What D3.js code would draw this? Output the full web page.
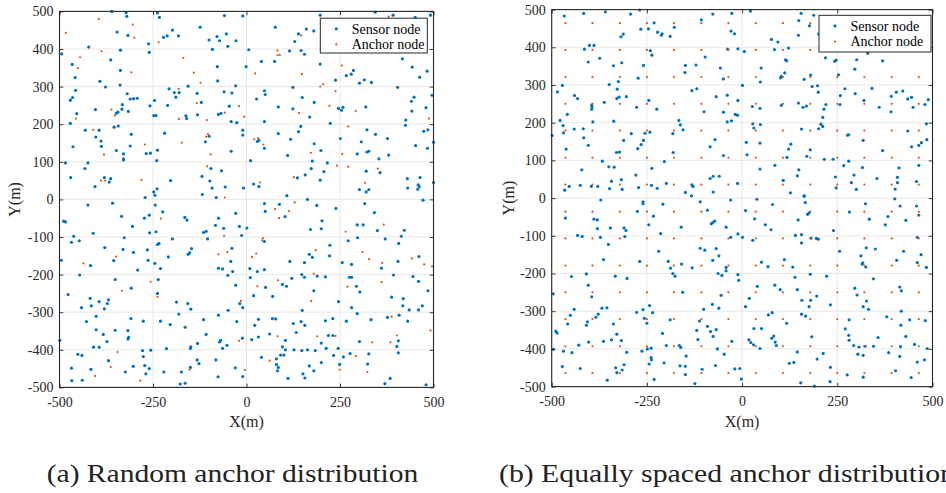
<!DOCTYPE html>
<html><head><meta charset="utf-8">
<script src="https://cdn.jsdelivr.net/npm/d3@7"></script>
<style>body{margin:0;background:#fff}svg{display:block}
svg text{font-family:"Liberation Serif","Tinos","Times New Roman","DejaVu Serif","Noto Serif",serif;}</style>
</head><body>
<svg id="c" width="946" height="493"></svg>
<script>
const xTicks = [-500,-250,0,250,500];
const yTicks = [-500,-400,-300,-200,-100,0,100,200,300,400,500];
const legendLabels = ["Sensor node","Anchor node"];
const captions = ["(a) Random anchor distribution","(b) Equally spaced anchor distribution"];
const axisLabels = ["X(m)","Y(m)"];

const sensorA = [
[-360,500],[-322,497],[-320,487],[-238,496],[-233,484],[-59,489],[-10,488],[-346,445],[-317,436],[-198,450],[-212,435],[-222,431],[-182,435],[-124,458],[-79,433],[-54,440],[-100,424],[-72,422],[-28,422],[-262,414],[-422,405],[-337,397],[-260,391],[-91,399],[-50,407],[-494,387],[-363,371],[-466,359],[-78,353],[-458,324],[-337,343],[-392,314],[-377,299],[-338,304],[-77,315],[-29,302],[-457,290],[-465,271],[-471,264],[-319,281],[-311,267],[-302,268],[-292,269],[-207,294],[-193,284],[-180,284],[-189,272],[-156,301],[-132,282],[-60,286],[-39,283],[-246,263],[-121,258],[-211,250],[-258,249],[-332,252],[-333,240],[-404,239],[-344,232],[-348,229],[-316,234],[-454,228],[-46,248],[-75,226],[-68,229],[-248,223],[-242,223],[-162,222],[-160,215],[-131,225],[-41,207],[-26,204],[-471,202],[-431,184],[-394,184],[-354,192],[-343,195],[-10,184],[-10,171],[-308,173],[-219,176],[-403,166],[-389,155],[-100,168],[-110,153],[-464,140],[-388,141],[-311,142],[-348,130],[-329,121],[-329,108],[-329,105],[-268,122],[-257,123],[-238,131],[-240,103],[-41,128],[-484,97],[-424,97],[-432,82],[-470,58],[-380,58],[-363,55],[-367,46],[-405,34],[-203,50],[-119,61],[-98,49],[-67,76],[-95,82],[-239,28],[-248,20],[-245,11],[-271,5],[-118,13],[-92,30],[-57,33],[-8,30],[-81,5],
[197,490],[344,498],[392,490],[451,484],[492,490],[77,458],[160,453],[139,440],[180,448],[129,420],[6,398],[115,395],[146,396],[155,386],[75,367],[40,367],[-1,353],[197,360],[417,374],[443,352],[483,341],[286,343],[280,333],[267,329],[238,317],[315,318],[302,309],[334,311],[463,325],[404,298],[124,298],[48,289],[50,279],[27,267],[149,271],[181,258],[441,261],[448,272],[496,277],[85,246],[124,241],[246,242],[258,245],[254,237],[319,246],[480,244],[442,235],[169,219],[48,207],[224,202],[426,211],[425,197],[145,194],[139,180],[85,175],[322,185],[345,173],[474,181],[485,185],[29,154],[33,157],[118,160],[251,162],[307,153],[377,162],[500,152],[48,136],[181,148],[199,130],[452,143],[484,136],[110,117],[296,121],[322,126],[327,128],[380,118],[11,103],[176,102],[216,97],[354,108],[173,82],[207,74],[157,65],[136,57],[197,51],[320,75],[357,71],[19,41],[33,34],[302,26],[320,20],[327,26],[430,55],[431,30],[464,58],[459,39],[462,34],[458,27],[500,45],[108,10],
[-358,-10],[-424,-15],[-244,-15],[-224,-33],[-334,-45],[-273,-50],[-260,-42],[-489,-58],[-484,-60],[-305,-72],[-165,-48],[-159,-55],[-75,-50],[-83,-69],[-61,-77],[-29,-37],[-19,-72],[-462,-98],[-410,-90],[-327,-102],[-259,-89],[-242,-86],[-115,-88],[-108,-85],[-104,-105],[-13,-96],[-468,-114],[-447,-110],[-379,-128],[-330,-133],[-302,-141],[-265,-134],[-238,-120],[-234,-117],[-198,-105],[-147,-131],[-152,-142],[-156,-146],[-39,-130],[-495,-162],[-417,-176],[-355,-163],[-263,-162],[-245,-170],[-209,-153],[-230,-184],[-75,-183],[-64,-185],[-42,-165],[-37,-192],[-50,-202],[-446,-201],[-351,-213],[-291,-188],[-236,-213],[-29,-228],[-477,-253],[-308,-236],[-238,-250],[-418,-263],[-394,-272],[-369,-267],[-372,-277],[-415,-283],[-380,-291],[-441,-288],[-187,-273],[-157,-277],[-149,-292],[-18,-277],[-10,-288],[-49,-295],[-181,-305],[-75,-308],[-402,-311],[-428,-325],[-309,-317],[-276,-324],[-230,-324],[-204,-333],[-164,-340],[-115,-320],[-26,-325],[-402,-347],[-351,-348],[-317,-349],[-383,-359],[-315,-367],[-317,-371],[-373,-378],[-499,-375],[-108,-359],[-69,-375],[-72,-379],[-11,-369],[-409,-393],[-394,-393],[-278,-402],[-256,-401],[-276,-418],[-214,-397],[-149,-392],[-150,-396],[-131,-383],[-64,-396],[-52,-388],[-451,-412],[-440,-415],[-369,-429],[-272,-442],[-260,-450],[-303,-444],[-416,-452],[-468,-449],[-324,-459],[-269,-464],[-221,-459],[-174,-459],[-150,-447],[-132,-427],[-127,-437],[-82,-427],[-76,-472],[-30,-448],[-10,-471],[-467,-482],[-439,-481],[-164,-489],[-177,-491],
[48,-11],[88,-13],[163,0],[188,-16],[239,-24],[316,-11],[472,-2],[50,-32],[103,-46],[342,-35],[202,-57],[296,-68],[312,-68],[1,-76],[171,-80],[200,-78],[350,-83],[422,-82],[48,-112],[297,-102],[371,-105],[414,-98],[407,-117],[272,-110],[223,-122],[168,-146],[176,-154],[222,-150],[116,-165],[155,-168],[256,-168],[281,-173],[9,-184],[29,-192],[48,-187],[361,-183],[405,-165],[461,-152],[10,-208],[121,-210],[148,-200],[155,-207],[189,-204],[211,-206],[275,-207],[281,-207],[393,-201],[445,-205],[460,-218],[51,-234],[96,-226],[107,-231],[294,-231],[303,-246],[180,-243],[485,-243],[19,-256],[70,-258],[246,-272],[388,-260],[419,-264],[418,-283],[435,-294],[460,-294],[470,-283],[281,-288],[149,-295],[296,-304],[32,-319],[69,-317],[78,-318],[22,-335],[125,-330],[146,-325],[156,-335],[211,-323],[231,-317],[267,-324],[333,-320],[377,-314],[408,-308],[431,-324],[133,-354],[32,-366],[14,-373],[62,-358],[104,-375],[200,-382],[219,-362],[231,-362],[96,-392],[104,-400],[127,-400],[148,-402],[163,-400],[184,-402],[213,-396],[245,-396],[302,-378],[406,-376],[402,-391],[406,-408],[327,-411],[277,-410],[259,-419],[40,-420],[80,-424],[91,-414],[100,-414],[80,-439],[85,-447],[83,-456],[168,-443],[200,-434],[180,-456],[233,-415],[249,-439],[324,-438],[151,-464],[156,-475],[111,-476],[370,-490],[384,-476],[480,-493]
];

const anchorA = [
[-395,480],[-304,465],[-300,430],[-483,443],[-388,394],[-235,418],[-169,376],[-445,378],[-451,349],[-308,338],[-141,337],[-123,310],[-181,294],[-133,256],[-20,248],[-58,231],[-6,220],[-361,239],[-352,223],[-456,215],[-181,214],[-106,211],[-410,185],[-103,174],[-108,167],[-173,151],[-272,146],[-381,119],[-96,120],[-105,88],[-389,50],[-378,50],[-281,52],[-58,5],
[146,436],[380,486],[83,396],[83,384],[89,384],[23,335],[148,333],[255,356],[197,300],[205,306],[238,288],[222,249],[140,230],[292,235],[488,215],[272,194],[21,160],[31,163],[45,146],[172,124],[256,121],[242,90],[272,87],[351,82],[36,45],[127,59],[317,44],
[-229,-51],[-60,-97],[-75,-146],[-51,-140],[-349,-152],[-436,-170],[-256,-219],[-333,-243],[-238,-259],[-15,-270],[-20,-376],[-345,-406],[-363,-446],[-405,-470],[-284,-482],[-152,-453],[-4,-454],
[129,-8],[76,-26],[114,-31],[87,-50],[265,-86],[367,-67],[44,-103],[42,-109],[185,-135],[26,-144],[15,-153],[310,-140],[328,-159],[363,-169],[442,-157],[475,-173],[496,-178],[180,-198],[84,-215],[29,-231],[270,-232],[361,-220],[173,-270],[388,-312],[83,-364],[189,-364],[238,-363],[336,-380],[385,-380],[402,-362],[492,-349],[292,-417],[62,-429],[249,-453],[323,-459]
];

const sensorB = [
[-467,483],[-416,490],[-359,494],[-293,488],[-269,499],[-231,465],[-246,449],[-266,448],[-222,440],[-210,436],[-212,432],[-189,429],[-178,453],[-312,435],[-318,428],[-107,473],[-77,488],[-27,490],[-29,443],[-20,436],[-401,405],[-389,405],[-414,395],[-241,391],[-237,379],[-97,374],[-38,395],[-11,396],[-374,371],[-404,361],[-338,351],[-316,359],[-259,352],[-149,352],[-121,353],[-57,345],[-150,333],[-273,318],[-49,316],[-472,299],[-349,301],[-325,309],[-485,282],[-328,289],[-440,272],[-432,264],[-323,268],[-329,264],[-304,269],[-362,254],[-395,247],[-394,242],[-395,236],[-277,241],[-245,259],[-224,236],[-132,285],[-119,290],[-68,269],[-39,273],[-11,259],[-100,229],[-49,228],[-18,222],[-12,220],[-459,222],[-478,206],[-392,202],[-337,204],[-166,206],[-162,194],[-155,181],[-39,202],[-28,205],[-470,192],[-469,173],[-441,183],[-417,184],[-416,160],[-499,166],[-291,171],[-255,172],[-242,175],[-182,171],[-71,155],[-311,153],[-259,153],[-265,142],[-274,131],[-404,140],[-462,130],[-322,122],[-330,121],[-181,121],[-84,136],[-49,113],[-367,98],[-421,75],[-350,83],[-336,82],[-237,79],[-204,97],[-279,61],[-343,45],[-317,49],[-84,52],[-76,58],[-60,58],[-454,31],[-425,34],[-396,31],[-379,31],[-348,25],[-315,23],[-272,28],[-238,34],[-223,26],[-199,39],[-132,35],[-129,31],[-466,21],[-149,15],[-133,6],[-76,16],[-12,39],
[22,496],[155,490],[188,485],[149,471],[177,457],[148,432],[77,421],[94,414],[122,398],[85,394],[6,389],[219,372],[114,367],[117,364],[247,366],[243,363],[301,367],[330,384],[369,364],[50,345],[296,342],[112,332],[103,323],[101,319],[180,326],[163,315],[253,327],[48,308],[1,299],[184,296],[198,298],[200,281],[270,290],[297,277],[341,291],[422,284],[405,281],[392,270],[435,263],[445,267],[489,261],[258,272],[320,259],[27,243],[47,238],[103,246],[148,252],[160,241],[169,244],[220,248],[215,236],[257,248],[360,241],[391,229],[449,241],[480,248],[212,214],[28,197],[31,186],[48,195],[207,196],[212,190],[201,184],[156,183],[277,167],[280,168],[435,178],[484,197],[318,153],[11,148],[47,146],[128,143],[122,130],[179,128],[369,126],[445,136],[464,140],[471,147],[485,155],[13,115],[118,108],[170,111],[216,103],[239,103],[280,98],[86,87],[47,77],[149,75],[267,86],[316,81],[412,80],[464,87],[108,47],[145,59],[245,56],[294,61],[354,52],[408,55],[408,41],[458,44],[287,41],[300,23],[127,14],[163,6],[402,24],[247,27],[201,435],
[-371,-5],[-260,-10],[-260,-15],[-208,-16],[-110,-10],[-30,-5],[-275,-35],[-464,-53],[-389,-56],[-380,-58],[-233,-48],[-91,-32],[-72,-61],[-77,-65],[-81,-68],[-245,-71],[-160,-77],[-380,-81],[-346,-79],[-310,-79],[-305,-86],[-42,-77],[-432,-99],[-420,-102],[-372,-104],[-308,-102],[-214,-94],[-351,-123],[-110,-133],[-98,-138],[-68,-134],[-30,-104],[-11,-95],[-219,-141],[-364,-163],[-269,-168],[-194,-168],[-159,-175],[-188,-186],[-131,-185],[-61,-153],[-77,-165],[-42,-184],[-42,-193],[-182,-200],[-176,-207],[-63,-200],[-53,-205],[-11,-203],[-9,-218],[-448,-208],[-409,-201],[-333,-207],[-302,-213],[-404,-231],[-496,-254],[-395,-262],[-156,-250],[-55,-258],[-243,-285],[-78,-282],[-61,-292],[-101,-295],[-441,-295],[-368,-292],[-355,-291],[-378,-308],[-384,-316],[-451,-311],[-277,-303],[-260,-296],[-235,-304],[-257,-319],[-250,-332],[-189,-323],[-112,-326],[-91,-340],[-83,-354],[-68,-349],[-76,-367],[-406,-328],[-409,-337],[-458,-334],[-338,-334],[-489,-353],[-486,-358],[-329,-361],[-209,-359],[-119,-351],[-116,-375],[-403,-382],[-364,-380],[-343,-376],[-317,-378],[-429,-390],[-199,-391],[-165,-391],[-161,-396],[-27,-380],[-496,-401],[-469,-406],[-447,-410],[-303,-409],[-263,-406],[-249,-400],[-239,-398],[-65,-400],[-47,-414],[-147,-419],[-239,-423],[-238,-429],[-205,-437],[-244,-440],[-472,-447],[-425,-452],[-310,-442],[-332,-450],[-315,-456],[-329,-463],[-163,-445],[-149,-446],[-105,-454],[-70,-444],[-19,-453],[-231,-481],[-149,-468],[-354,-483],[-124,-492],
[39,-3],[163,5],[166,-12],[80,-17],[324,-15],[401,-2],[415,-21],[458,-21],[9,-33],[172,-43],[176,-39],[282,-37],[464,-45],[33,-55],[147,-58],[334,-56],[383,-49],[430,-59],[61,-71],[76,-84],[240,-86],[376,-71],[1,-104],[28,-112],[140,-99],[156,-97],[156,-119],[181,-106],[195,-107],[200,-109],[460,-104],[256,-141],[326,-132],[350,-135],[424,-141],[470,-150],[312,-153],[111,-163],[51,-170],[68,-182],[133,-183],[317,-172],[315,-175],[325,-183],[406,-165],[460,-171],[484,-184],[179,-202],[139,-210],[222,-207],[345,-214],[40,-234],[86,-231],[100,-243],[145,-243],[196,-260],[414,-236],[418,-246],[296,-239],[302,-257],[19,-266],[157,-271],[180,-271],[327,-273],[9,-288],[176,-288],[232,-283],[318,-288],[332,-295],[418,-300],[79,-304],[69,-310],[156,-308],[167,-313],[117,-332],[281,-323],[380,-315],[417,-337],[440,-323],[481,-325],[31,-346],[51,-346],[271,-347],[83,-366],[78,-372],[87,-382],[90,-391],[18,-376],[23,-383],[30,-389],[47,-399],[183,-368],[280,-364],[281,-377],[293,-391],[307,-395],[323,-393],[345,-393],[357,-370],[416,-394],[430,-367],[453,-388],[486,-399],[145,-408],[213,-412],[197,-427],[304,-414],[318,-417],[385,-410],[414,-420],[479,-429],[460,-435],[124,-438],[136,-436],[-6,-452],[232,-449],[403,-458],[444,-476],[-2,-480],[276,-469],[318,-475],[154,-490],[190,-499],[231,-487]
];

// Equally spaced anchor grid (column and row positions)
const anchorBX = [-464,-393,-321,-250,-179,-107,-36,36,107,179,250,321,393,464];
const anchorBY = [-464,-393,-321,-250,-179,-107,-36,36,107,179,250,321,393,464];

const BLUE = "#0072BD", RED = "#D95319", AXC = "#262626";

const svg = d3.select("#c");
svg.append("rect").attr("width",946).attr("height",493).attr("fill","#fff");

const panels = [
  {sensors: sensorA, anchors: anchorA, l:59.5, r:433.5, t:11.4, b:387.4,
   leg:{x:320.3, y:18.2, w:107, h:34.8}, ylabX:20, caption:captions[0], capX:46.7, capLen:371.5},
  {sensors: sensorB, anchors: d3.cross(anchorBX, anchorBY), l:551.7, r:932.5, t:9.6, b:386.6,
   leg:{x:819, y:15.3, w:112, h:36.7}, ylabX:514, caption:captions[1], capX:499, capLen:456}
];

panels.forEach(p => {
  const x = d3.scaleLinear().domain([-500,500]).range([p.l, p.r]);
  const y = d3.scaleLinear().domain([-500,500]).range([p.b, p.t]);
  const g = svg.append("g");

  g.append("g").selectAll("line").data(xTicks).join("line")
    .attr("x1", d => x(d)).attr("x2", d => x(d)).attr("y1", p.t).attr("y2", p.b)
    .attr("stroke", "#e2e2e2").attr("stroke-width", 0.8);
  g.append("g").selectAll("line").data(yTicks).join("line")
    .attr("y1", d => y(d)).attr("y2", d => y(d)).attr("x1", p.l).attr("x2", p.r)
    .attr("stroke", "#e2e2e2").attr("stroke-width", 0.8);

  g.append("g").selectAll("circle").data(p.sensors).join("circle")
    .attr("cx", d => x(d[0])).attr("cy", d => y(d[1])).attr("r", 1.6).attr("fill", BLUE);
  g.append("g").selectAll("circle").data(p.anchors).join("circle")
    .attr("cx", d => x(d[0])).attr("cy", d => y(d[1])).attr("r", 1.1).attr("fill", RED);

  const tk = 3.8;
  const fmt = d => String(d);
  const style = sel => {
    sel.attr("font-family", null).attr("font-size", null);
    sel.select(".domain").remove();
    sel.selectAll(".tick line").attr("stroke", AXC).attr("stroke-width", 0.9);
    sel.selectAll("text").attr("fill", AXC).style("font-size", "14px");
  };
  g.append("g").attr("transform", `translate(0,${p.b})`)
    .call(d3.axisBottom(x).tickValues(xTicks).tickSize(-tk).tickPadding(9.5).tickFormat(fmt)).call(style);
  g.append("g").attr("transform", `translate(0,${p.t})`)
    .call(d3.axisTop(x).tickValues(xTicks).tickSize(-tk).tickFormat("")).call(style);
  g.append("g").attr("transform", `translate(${p.l},0)`)
    .call(d3.axisLeft(y).tickValues(yTicks).tickSize(-tk).tickPadding(6).tickFormat(fmt)).call(style);
  g.append("g").attr("transform", `translate(${p.r},0)`)
    .call(d3.axisRight(y).tickValues(yTicks).tickSize(-tk).tickFormat("")).call(style);

  g.append("rect").attr("x", p.l).attr("y", p.t).attr("width", p.r - p.l).attr("height", p.b - p.t)
    .attr("fill", "none").attr("stroke", AXC).attr("stroke-width", 1.1);

  g.append("text").attr("x", (p.l + p.r) / 2).attr("y", p.b + 40).attr("text-anchor", "middle")
    .style("font-size", "16px").attr("fill", AXC).text(axisLabels[0]);
  g.append("text").attr("transform", `translate(${p.ylabX},${(p.t + p.b) / 2}) rotate(-90)`)
    .attr("text-anchor", "middle")
    .style("font-size", "16px").attr("fill", AXC).text(axisLabels[1]);

  const L = p.leg;
  const lg = g.append("g");
  lg.append("rect").attr("x", L.x).attr("y", L.y).attr("width", L.w).attr("height", L.h)
    .attr("fill", "#fff").attr("stroke", AXC).attr("stroke-width", 1);
  const rows = [L.y + 10.6, L.y + 26.2];
  const cols = [BLUE, RED], rr = [1.6, 1.1];
  legendLabels.forEach((lab, i) => {
    lg.append("circle").attr("cx", L.x + 16).attr("cy", rows[i]).attr("r", rr[i]).attr("fill", cols[i]);
    lg.append("text").attr("x", L.x + 31.4).attr("y", rows[i] + 4.8)
      .style("font-size", "14px").attr("fill", "#000").text(lab);
  });

  svg.append("text").attr("x", p.capX).attr("y", 482)
    .attr("textLength", p.capLen).attr("lengthAdjust", "spacingAndGlyphs")
    .style("font-size", "25px").attr("fill", "#222").text(p.caption);
});
</script>
</body></html>
